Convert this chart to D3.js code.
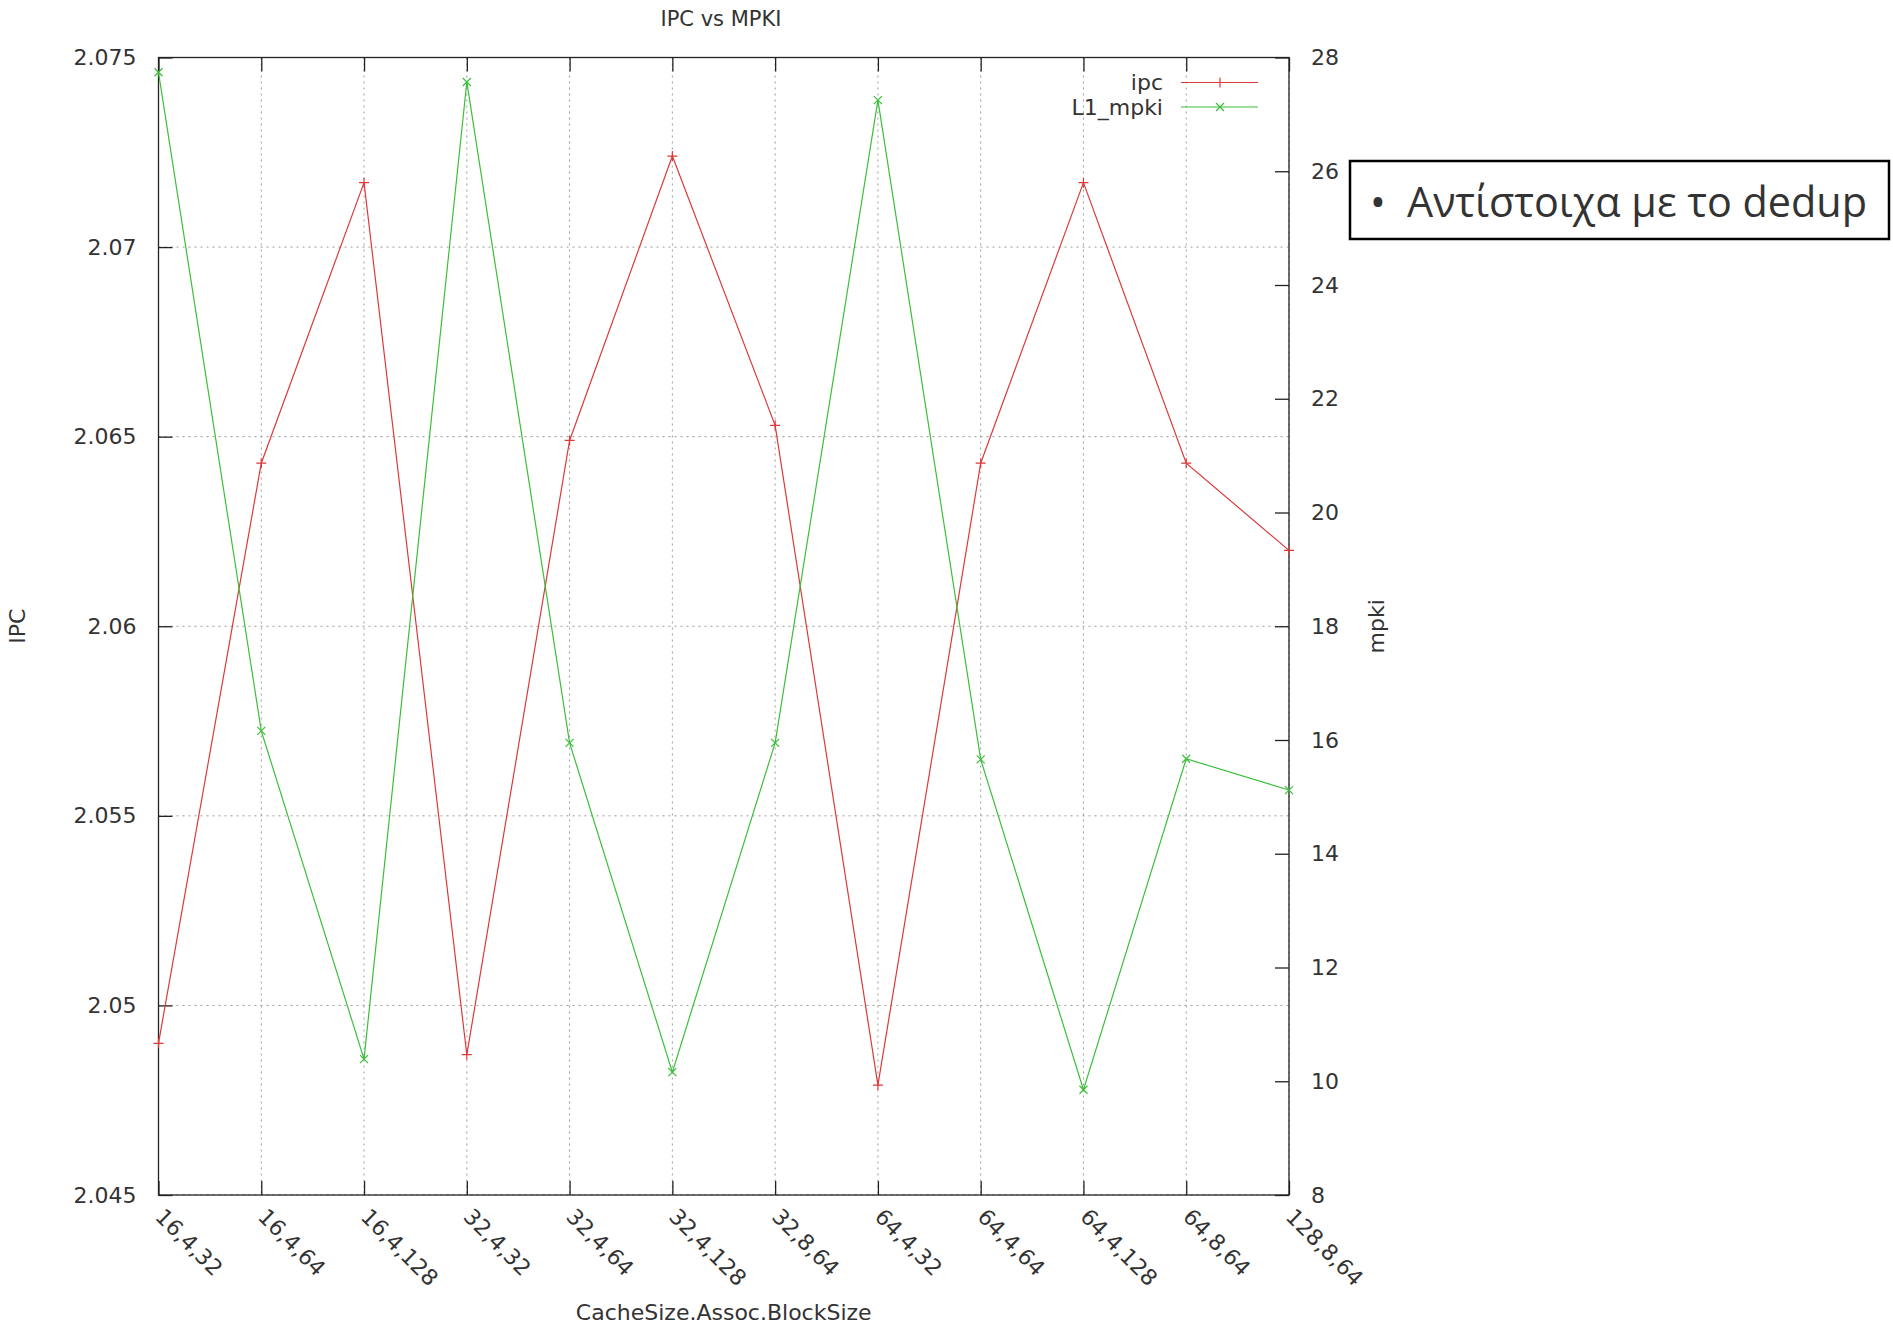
<!DOCTYPE html>
<html>
<head>
<meta charset="utf-8">
<script src="https://cdn.jsdelivr.net/npm/d3@7"></script>
<style>
  body { margin: 0; background: #fff; }
  text { font-family: "DejaVu Sans", sans-serif; fill: #333; }
</style>
</head>
<body>
<svg id="chart" width="1893" height="1326"></svg>
<script>
// values
const configs = ["16,4,32", "16,4,64", "16,4,128", "32,4,32", "32,4,64", "32,4,128",
  "32,8,64", "64,4,32", "64,4,64", "64,4,128", "64,8,64", "128,8,64"];
const ipc = [2.0490, 2.0643, 2.0717, 2.0487, 2.0649, 2.0724, 2.0653, 2.0479, 2.0643, 2.0717, 2.0643, 2.0620];
const l1Mpki = [27.74, 16.16, 10.39, 27.57, 15.95, 10.16, 15.95, 27.25, 15.66, 9.85, 15.67, 15.12];
const ipcTicks = [2.045, 2.05, 2.055, 2.06, 2.065, 2.07, 2.075];
const mpkiTicks = [8, 10, 12, 14, 16, 18, 20, 22, 24, 26, 28];
const seriesNames = ["ipc", "L1_mpki"];

const svg = d3.select("#chart");
const margin = { top: 57.5, right: 604, bottom: 131, left: 158.5 };
const width = +svg.attr("width") - margin.left - margin.right;
const height = +svg.attr("height") - margin.top - margin.bottom;

const red = "#dc3a3a";
const green = "#3bbf3b";

const x = d3.scalePoint().domain(configs).range([0, width]);
const y = d3.scaleLinear().domain([2.045, 2.075]).range([height, 0]);
const y2 = d3.scaleLinear().domain([8, 28]).range([height, 0]);

const g = svg.append("g")
  .attr("transform", `translate(${margin.left},${margin.top})`);

// grid
g.append("g").selectAll("line")
  .data(configs)
  .enter().append("line")
  .attr("x1", d => x(d)).attr("x2", d => x(d))
  .attr("y1", 0).attr("y2", height)
  .attr("stroke", "#9a9a9a")
  .attr("stroke-dasharray", "2,4");

g.append("g").selectAll("line")
  .data(ipcTicks)
  .enter().append("line")
  .attr("x1", 0).attr("x2", width)
  .attr("y1", d => y(d)).attr("y2", d => y(d))
  .attr("stroke", "#9a9a9a")
  .attr("stroke-dasharray", "2,4");

// axes, ticks pointing inward like gnuplot
const fmt = v => String(+v.toFixed(3));

g.append("g")
  .call(d3.axisLeft(y).tickValues(ipcTicks).tickFormat(fmt)
    .tickSizeInner(-14).tickSizeOuter(0).tickPadding(22));

g.append("g")
  .attr("transform", `translate(${width},0)`)
  .call(d3.axisRight(y2).tickValues(mpkiTicks).tickFormat(d3.format("d"))
    .tickSizeInner(-14).tickSizeOuter(0).tickPadding(22));

const xAxis = g.append("g")
  .attr("transform", `translate(0,${height})`)
  .call(d3.axisBottom(x).tickSizeInner(-14).tickSizeOuter(0));

xAxis.selectAll("text")
  .attr("x", 0).attr("y", 0).attr("dy", 0)
  .attr("text-anchor", "start")
  .attr("transform", "translate(-5,23) rotate(45)");

g.append("g")
  .call(d3.axisTop(x).tickSizeInner(-14).tickSizeOuter(0).tickFormat(""));

g.selectAll(".domain").remove();
g.selectAll(".tick line").attr("stroke", "#222").attr("stroke-width", 1.3);
g.selectAll(".tick text")
  .style("font-family", "DejaVu Sans, sans-serif")
  .style("font-size", "22px")
  .attr("fill", "#333");

g.append("rect")
  .attr("width", width).attr("height", height)
  .attr("fill", "none")
  .attr("stroke", "#222")
  .attr("stroke-width", 1.3);

// series
const ipcLine = d3.line().x((d, i) => x(configs[i])).y(d => y(d));
const mpkiLine = d3.line().x((d, i) => x(configs[i])).y(d => y2(d));

g.append("path").datum(ipc)
  .attr("d", ipcLine)
  .attr("fill", "none").attr("stroke", red).attr("stroke-width", 1.2);

g.append("path").datum(l1Mpki)
  .attr("d", mpkiLine)
  .attr("fill", "none").attr("stroke", green).attr("stroke-width", 1.2);

const plus = "M-5,0H5M0,-5V5";
const cross = "M-4,-4L4,4M-4,4L4,-4";

g.selectAll(".ipc-pt")
  .data(ipc)
  .enter().append("path")
  .attr("class", "ipc-pt")
  .attr("transform", (d, i) => `translate(${x(configs[i])},${y(d)})`)
  .attr("d", plus)
  .attr("stroke", red).attr("stroke-width", 1.2);

g.selectAll(".mpki-pt")
  .data(l1Mpki)
  .enter().append("path")
  .attr("class", "mpki-pt")
  .attr("transform", (d, i) => `translate(${x(configs[i])},${y2(d)})`)
  .attr("d", cross)
  .attr("stroke", green).attr("stroke-width", 1.2);

// legend
const legend = g.append("g")
  .attr("transform", `translate(${width - 126},25)`);

legend.selectAll("g")
  .data(seriesNames)
  .enter().append("g")
  .attr("transform", (d, i) => `translate(0,${i * 24.5})`)
  .each(function (d, i) {
    const row = d3.select(this);
    const col = i === 0 ? red : green;
    row.append("text")
      .attr("x", 0).attr("dy", "0.35em")
      .attr("text-anchor", "end")
      .style("font-size", "22px")
      .text(d);
    row.append("line")
      .attr("x1", 18).attr("x2", 95)
      .attr("stroke", col).attr("stroke-width", 1.2);
    row.append("path")
      .attr("transform", "translate(57,0)")
      .attr("d", i === 0 ? plus : cross)
      .attr("stroke", col).attr("stroke-width", 1.2);
  });

// titles
svg.append("text")
  .attr("x", 721).attr("y", 26)
  .attr("text-anchor", "middle")
  .style("font-size", "21px")
  .text("IPC vs MPKI");

svg.append("text")
  .attr("x", margin.left + width / 2).attr("y", 1320)
  .attr("text-anchor", "middle")
  .style("font-size", "22px")
  .text("CacheSize.Assoc.BlockSize");

svg.append("text")
  .attr("transform", `translate(25,${margin.top + height / 2}) rotate(-90)`)
  .attr("text-anchor", "middle")
  .style("font-size", "22px")
  .text("IPC");

svg.append("text")
  .attr("transform", `translate(1384,${margin.top + height / 2}) rotate(-90)`)
  .attr("text-anchor", "middle")
  .style("font-size", "22px")
  .text("mpki");

// slide note box
const note = svg.append("g");
note.append("rect")
  .attr("x", 1350).attr("y", 161)
  .attr("width", 539).attr("height", 78)
  .attr("fill", "#fff")
  .attr("stroke", "#000")
  .attr("stroke-width", 2.5);
note.append("text")
  .attr("x", 1378).attr("y", 217)
  .attr("text-anchor", "middle")
  .style("font-family", "Open Sans, sans-serif")
  .style("font-size", "42px")
  .attr("fill", "#000")
  .text("•");
note.append("text")
  .attr("x", 1407).attr("y", 217)
  .attr("textLength", 460)
  .attr("lengthAdjust", "spacingAndGlyphs")
  .style("font-family", "Open Sans, sans-serif")
  .style("font-size", "42px")
  .attr("fill", "#000")
  .text("Αντίστοιχα με το dedup");
</script>
</body>
</html>
